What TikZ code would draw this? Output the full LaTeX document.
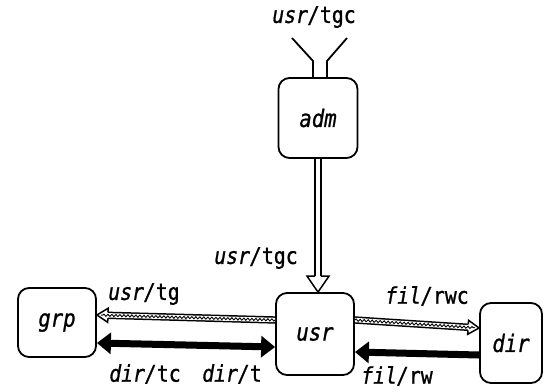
\documentclass[tikz,border=0pt]{standalone}
\usepackage{fontspec}
\newfontfamily\lblfont[FakeStretch=0.86,FakeBold=1]{DejaVu Sans Mono}
\usetikzlibrary{calc,arrows.meta,decorations.pathmorphing}
\tikzset{
 lbl/.style={font=\lblfont\fontsize{23}{27}\selectfont, inner sep=0pt},
 box/.style={draw, line width=1.8pt, rounded corners=11pt, inner sep=0pt,
   font=\lblfont\itshape\fontsize{24}{28}\selectfont},
 thickarr/.style={line width=7pt, -{Triangle[length=14pt,width=21pt]}},
 thickdbl/.style={line width=7pt, {Triangle[length=14pt,width=21pt]}-{Triangle[length=14pt,width=21pt]}},
 band/.style={line width=1.5pt, double=white, double distance=4.4pt},
 wave/.style={line width=0.9pt, decorate, decoration={snake, amplitude=1.1pt, segment length=4pt}},
 funnel/.style={line width=1.8pt, line join=round},
}
% #1 start, #2 tip, #3 head length, #4 head half width
\newcommand\hollowarr[4]{%
 \path coordinate (hB) at ($(#2)!#3!(#1)$)
   coordinate (hL) at ($(hB)!#4!90:(#2)$)
   coordinate (hR) at ($(hB)!#4!-90:(#2)$)
   coordinate (sL) at ($(hB)!2.95pt!90:(#2)$)
   coordinate (sR) at ($(hB)!2.95pt!-90:(#2)$);
 \draw[band] (#1) -- (hB);
 \fill[white] (hL) -- (#2) -- (hR) -- cycle;
 \draw[line width=1.5pt, line join=miter] (sL) -- (hL) -- (#2) -- (hR) -- (sR);
}
\newcommand\wavyarr[2]{%
 \hollowarr{#1}{#2}{11pt}{7pt}
 \draw[wave] (#1) -- ($(#2)!4pt!(#1)$);
}
\begin{document}
\begin{tikzpicture}[x=1pt,y=-1pt]
\useasboundingbox (0,0) rectangle (545,391);
% boxes
\node[box, minimum width=79pt, minimum height=80pt] (adm) at (318,118) {adm};
\node[box, minimum width=78pt, minimum height=82pt] (usr) at (315,334) {usr};
\node[box, minimum width=78pt, minimum height=69pt] (grp) at (57,322.5) {grp};
\node[box, minimum width=62pt, minimum height=80pt] (dir) at (511,343) {dir};
% funnel on top of adm
\coordinate (fl) at (292,38);
\coordinate (fr) at (347,38);
\coordinate (fl2) at (313,61);
\coordinate (fr2) at (327,61);
\draw[funnel] (fl) -- (fl2) -- (fl2 |- adm.north);
\draw[funnel] (fr) -- (fr2) -- (fr2 |- adm.north);
% vertical arrow adm -> usr
\coordinate (vs) at (adm.south);
\coordinate (vt) at (adm.south |- usr.north);
\hollowarr{vs}{vt}{16pt}{11pt}
% wavy arrows
\coordinate (w1s) at ([yshift=14pt]usr.west);
\coordinate (w1t) at ([yshift=7.5pt]grp.east);
\wavyarr{w1s}{w1t}
\coordinate (w2s) at ([yshift=14pt]usr.east);
\coordinate (w2t) at ([yshift=15pt]dir.west);
\wavyarr{w2s}{w2t}
% thick arrows
\draw[thickdbl] ([yshift=-20.5pt]grp.east) -- ([yshift=-13pt]usr.west);
\draw[thickarr] ([yshift=-12pt]dir.west) -- ([yshift=-18pt]usr.east);
% labels
\node[lbl] (t1) at (314,17) {\textit{usr/}tgc};
\node[lbl] (t2) at (256,258) {\textit{usr/}tgc};
\node[lbl] (t3) at (144,294) {\textit{usr/}tg};
\node[lbl] (t4) at (145,374) {\textit{dir/}tc};
\node[lbl] (t5) at (232,374) {\textit{dir/}t};
\node[lbl] (t6) at (427,296) {\textit{fil/}rwc};
\node[lbl] (t7) at (397,376) {\textit{fil/}rw};
\end{tikzpicture}
\end{document}
